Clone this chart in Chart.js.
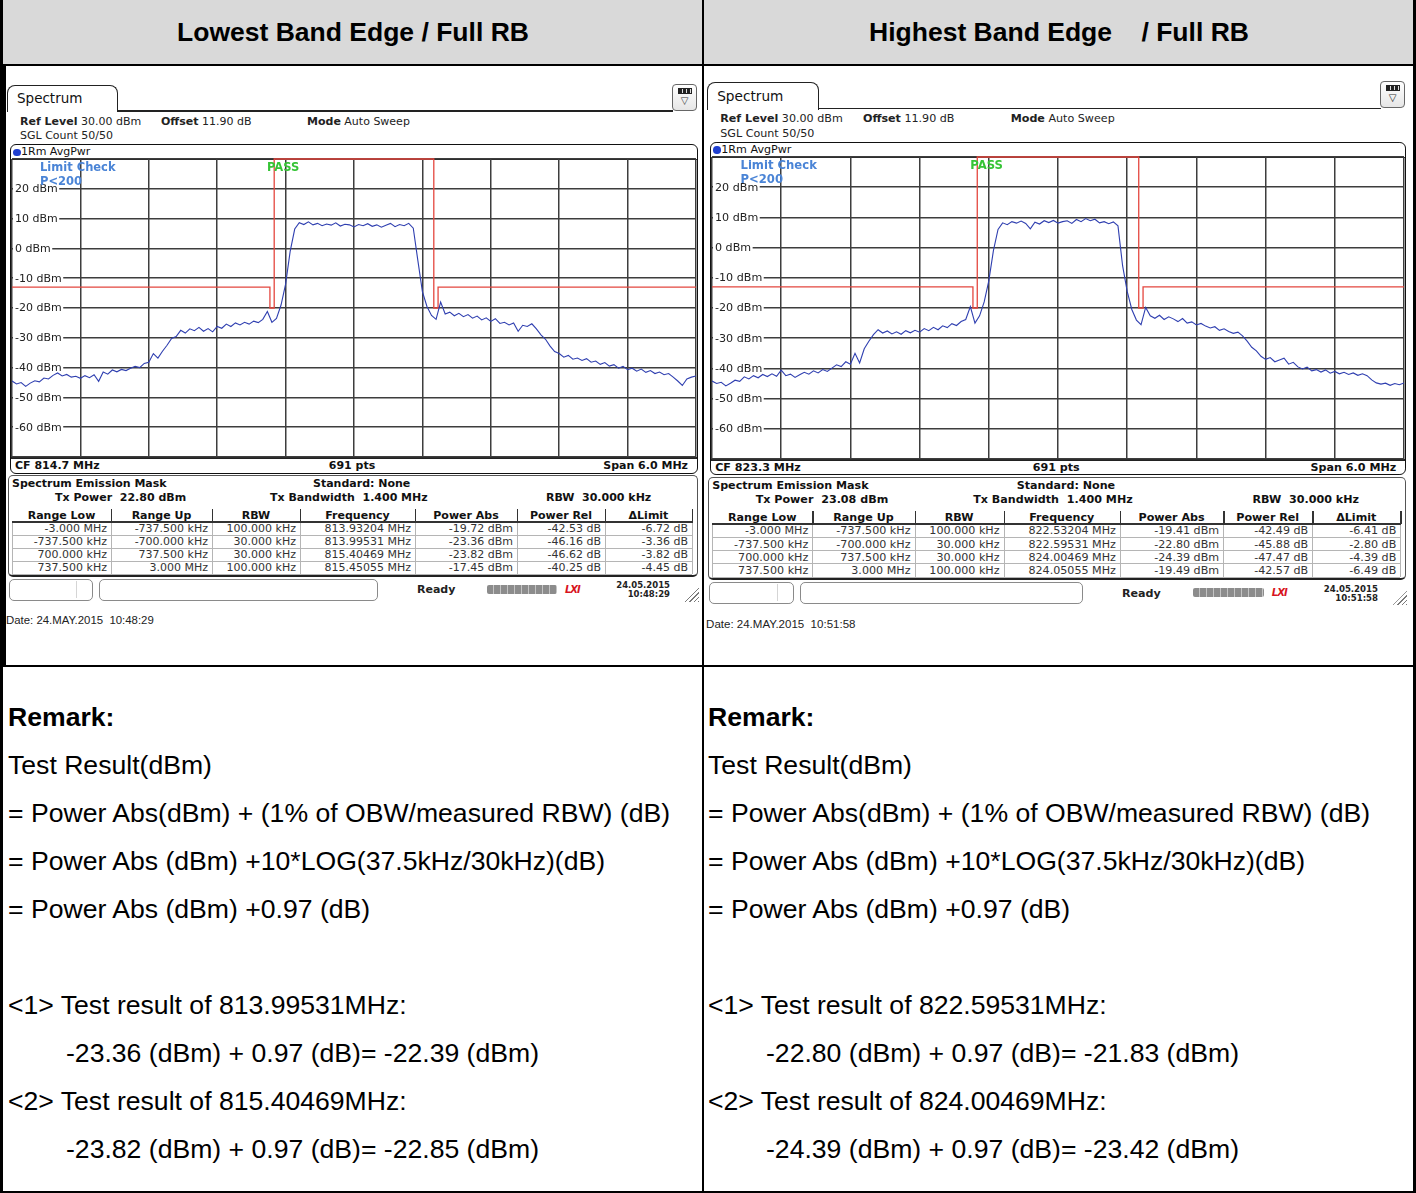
<!DOCTYPE html>
<html>
<head>
<meta charset="utf-8">
<script src="https://cdn.jsdelivr.net/npm/chart.js@4.4.1/dist/chart.umd.min.js"></script>
<style>
  body { margin: 0; background: #fff; }
  #page { position: relative; width: 1416px; height: 1193px; overflow: hidden; font-family: "Liberation Sans", Arial, sans-serif; color: #000; }
</style>
</head>
<body>
<div id="page"></div>

<script>
const spanMHz = 6.0;
const lowCF = 814.7;
const highCF = 823.3;
const levelTicks = [20, 10, 0, -10, -20, -30, -40, -50, -60];

// SEM limit line, offsets from CF (MHz) and levels (dBm)
const limitOffsets = [-3, -0.7375, -0.7375, -0.7, -0.7, 0.7, 0.7, 0.7375, 0.7375, 3];
const limitLevels  = [-13, -13, -20, -20, 30, 30, -20, -20, -13, -13];

// trace levels (dBm), evenly spread over the 6 MHz span
const lowTrace = [
  -44.5,-45.5,-45.0,-46.3,-45.2,-44.4,-44.8,-43.5,-43.8,-42.6,
  -41.8,-42.8,-42.3,-43.2,-42.9,-43.6,-42.7,-43.4,-42.4,-44.6,
  -41.5,-42.2,-40.8,-41.4,-40.6,-41.0,-40.2,-39.6,-40.0,-38.6,
  -38.2,-35.3,-36.8,-34.5,-32.5,-30.2,-29.6,-27.5,-28.4,-27.0,
  -27.6,-26.5,-27.8,-26.9,-28.0,-26.2,-26.8,-25.4,-26.2,-25.0,
  -25.7,-24.8,-25.4,-24.4,-24.9,-23.8,-21.2,-24.8,-23.5,-19.0,
  -12.0,-1.0,6.5,8.6,8.0,8.9,7.9,8.4,7.6,8.2,
  7.8,8.6,7.5,8.1,7.9,7.2,8.0,7.6,8.3,7.4,
  7.9,7.1,7.8,8.4,7.3,8.0,7.6,8.4,6.8,-4.0,
  -14.5,-19.5,-22.5,-23.8,-18.0,-22.0,-21.4,-22.6,-21.8,-22.9,
  -22.2,-23.4,-22.7,-24.0,-23.3,-24.5,-23.6,-25.2,-24.8,-25.7,
  -25.0,-27.8,-25.8,-26.2,-25.3,-27.0,-29.0,-30.5,-32.8,-34.6,
  -35.3,-36.5,-35.9,-37.2,-36.8,-37.6,-37.0,-38.2,-37.8,-38.9,
  -38.3,-39.5,-39.0,-40.2,-39.6,-40.7,-40.2,-41.2,-40.5,-41.6,
  -41.0,-42.0,-41.5,-42.4,-42.0,-43.2,-44.5,-46.0,-43.8,-43.2,-42.8
];
const highTrace = [
  -44.2,-45.0,-44.6,-45.8,-44.9,-43.9,-44.3,-42.8,-43.5,-42.4,
  -43.1,-42.0,-42.7,-41.8,-42.6,-40.6,-42.4,-41.9,-43.0,-42.1,
  -41.3,-41.9,-40.8,-41.5,-40.4,-41.0,-39.9,-38.8,-39.4,-37.8,
  -38.6,-35.0,-38.2,-33.5,-31.0,-28.8,-27.2,-28.3,-27.6,-28.6,
  -27.9,-28.7,-27.5,-28.2,-27.4,-28.0,-26.8,-27.5,-26.4,-27.2,
  -25.9,-26.5,-25.2,-25.8,-24.5,-23.8,-19.5,-25.0,-22.6,-18.0,
  -11.0,-1.0,6.0,8.2,7.6,8.6,8.1,8.8,8.0,6.2,
  8.4,7.8,8.9,8.3,9.0,8.1,8.6,8.9,8.0,9.3,
  8.6,9.6,8.9,9.4,8.2,8.6,7.9,8.5,7.2,-6.0,
  -14.5,-20.5,-24.0,-25.5,-19.8,-22.6,-23.4,-22.4,-23.8,-22.9,
  -23.6,-24.5,-23.5,-25.0,-24.6,-25.6,-25.1,-26.0,-26.6,-26.2,
  -27.4,-26.9,-27.8,-28.4,-28.0,-29.2,-31.0,-33.0,-34.2,-36.0,
  -37.0,-36.4,-37.8,-37.2,-36.6,-38.6,-38.0,-39.5,-40.2,-39.6,
  -40.8,-40.4,-41.2,-40.5,-41.6,-41.0,-41.8,-41.3,-42.0,-41.5,
  -42.3,-41.8,-42.4,-43.8,-44.8,-45.2,-44.9,-45.6,-45.0,-45.4,-44.8
];

const semHeaders = ['Range Low', 'Range Up', 'RBW', 'Frequency', 'Power Abs', 'Power Rel', '\u0394Limit'];
const lowRows = [
  ['-3.000 MHz', '-737.500 kHz', '100.000 kHz', '813.93204 MHz', '-19.72 dBm', '-42.53 dB', '-6.72 dB'],
  ['-737.500 kHz', '-700.000 kHz', '30.000 kHz', '813.99531 MHz', '-23.36 dBm', '-46.16 dB', '-3.36 dB'],
  ['700.000 kHz', '737.500 kHz', '30.000 kHz', '815.40469 MHz', '-23.82 dBm', '-46.62 dB', '-3.82 dB'],
  ['737.500 kHz', '3.000 MHz', '100.000 kHz', '815.45055 MHz', '-17.45 dBm', '-40.25 dB', '-4.45 dB']
];
const highRows = [
  ['-3.000 MHz', '-737.500 kHz', '100.000 kHz', '822.53204 MHz', '-19.41 dBm', '-42.49 dB', '-6.41 dB'],
  ['-737.500 kHz', '-700.000 kHz', '30.000 kHz', '822.59531 MHz', '-22.80 dBm', '-45.88 dB', '-2.80 dB'],
  ['700.000 kHz', '737.500 kHz', '30.000 kHz', '824.00469 MHz', '-24.39 dBm', '-47.47 dB', '-4.39 dB'],
  ['737.500 kHz', '3.000 MHz', '100.000 kHz', '824.05055 MHz', '-19.49 dBm', '-42.57 dB', '-6.49 dB']
];

const lowRemark = [
  ['Remark:', 0, true], ['Test Result(dBm)', 0], ['= Power Abs(dBm) + (1% of OBW/measured RBW) (dB)', 0],
  ['= Power Abs (dBm) +10*LOG(37.5kHz/30kHz)(dB)', 0], ['= Power Abs (dBm) +0.97 (dB)', 0], ['', 0],
  ['<1> Test result of 813.99531MHz:', 0], ['-23.36 (dBm) + 0.97 (dB)= -22.39 (dBm)', 1],
  ['<2> Test result of 815.40469MHz:', 0], ['-23.82 (dBm) + 0.97 (dB)= -22.85 (dBm)', 1]
];
const highRemark = [
  ['Remark:', 0, true], ['Test Result(dBm)', 0], ['= Power Abs(dBm) + (1% of OBW/measured RBW) (dB)', 0],
  ['= Power Abs (dBm) +10*LOG(37.5kHz/30kHz)(dB)', 0], ['= Power Abs (dBm) +0.97 (dB)', 0], ['', 0],
  ['<1> Test result of 822.59531MHz:', 0], ['-22.80 (dBm) + 0.97 (dB)= -21.83 (dBm)', 1],
  ['<2> Test result of 824.00469MHz:', 0], ['-24.39 (dBm) + 0.97 (dB)= -23.42 (dBm)', 1]
];

// ---- helpers ----
const page = document.getElementById('page');
const INSTR = 'font-family:"DejaVu Sans",Verdana,sans-serif;';

function box(x, y, w, h, css) {
  const d = document.createElement('div');
  d.style.cssText = `position:absolute;left:${x}px;top:${y}px;width:${w}px;height:${h}px;box-sizing:border-box;` + (css || '');
  page.appendChild(d);
  return d;
}

function text(x, cy, str, fs, css, align, html) {
  const d = document.createElement('div');
  if (html) d.innerHTML = str; else d.textContent = str;
  let st = `position:absolute;top:${cy - fs * 0.6}px;font-size:${fs}px;line-height:${fs * 1.2}px;white-space:pre;` + (css || '');
  if (align === 'right') st += `right:${1416 - x}px;text-align:right;`;
  else if (align === 'center') st += `left:${x - 300}px;width:600px;text-align:center;`;
  else st += `left:${x}px;`;
  d.style.cssText = st;
  page.appendChild(d);
  return d;
}

// level labels sit inside the plot, on a white patch, under the trace
const levelLabels = {
  id: 'levelLabels',
  beforeDatasetsDraw(chart, args, opts) {
    const { ctx, chartArea } = chart;
    const ys = chart.scales.y;
    ctx.save();
    ctx.font = opts.size + 'px "DejaVu Sans"';
    ctx.textBaseline = 'middle';
    levelTicks.forEach(v => {
      const py = ys.getPixelForValue(v);
      const s = v + ' dBm';
      const w = ctx.measureText(s).width;
      ctx.fillStyle = '#fff';
      ctx.fillRect(chartArea.left + 1, py - opts.size * 0.55, w + 3.5, opts.size * 1.1);
      ctx.fillStyle = '#222';
      ctx.fillText(s, chartArea.left + 3, py + 0.5);
    });
    ctx.restore();
  }
};

// ---- document table ----
box(0, 0, 1416, 64, 'background:#d9d9d9;');
box(0, 0, 3, 1193, 'background:#000;');
box(1413, 0, 3, 1193, 'background:#000;');
box(0, 64, 1416, 2, 'background:#000;');
box(702, 0, 2, 1193, 'background:#000;');
box(0, 665, 1416, 2, 'background:#000;');
box(0, 1191, 1416, 2, 'background:#000;');
box(0, 66, 6, 599, 'background:#000;');

text(353, 33, 'Lowest Band Edge / Full RB', 26.5, 'font-weight:bold;', 'center');
text(1059, 33, 'Highest Band Edge    / Full RB', 26.5, 'font-weight:bold;', 'center');

function remarks(lines, x0) {
  lines.forEach((ln, i) => {
    const x = x0 + (ln[1] ? 58 : 0);
    text(x, 718 + i * 48, ln[0], 26.6, ln[2] ? 'font-weight:bold;' : '');
  });
}
remarks(lowRemark, 8);
remarks(highRemark, 708);

// ---- one analyser screen ----
function buildPanel(p) {
  const X = v => p.ox + v * p.s, Y = v => p.oy + v * p.s, S = v => v * p.s;
  const t = (x, cy, str, fs, css, align) => text(X(x), Y(cy), str, S(fs), INSTR + (css || ''), align, true);

  // tab + header
  box(X(7), Y(85), S(111), S(27), `border:${S(1.5)}px solid #222;border-bottom:none;border-radius:${S(8)}px ${S(8)}px 0 0;background:#fff;`);
  t(17, 98.5, 'Spectrum', 13.5, 'color:#111;');
  box(X(118), Y(110), S(555), S(1.5), 'background:#222;');
  box(X(672), Y(83.5), S(25), S(27), `border:${S(1.2)}px solid #666;border-radius:${S(4)}px;background:linear-gradient(#fff,#e6e6e6);`);
  box(X(677.5), Y(88), S(14), S(5.5), 'background:repeating-linear-gradient(90deg,#222 0 3px,#ddd 3px 4px);border:1px solid #222;');
  t(684.5, 101, '\u25BD', 10, 'color:#333;', 'center');

  t(20, 121.5, '<b>Ref Level</b> 30.00 dBm', 11, 'color:#222;');
  t(161, 121.5, '<b>Offset</b> 11.90 dB', 11, 'color:#222;');
  t(307, 121.5, '<b>Mode</b> Auto Sweep', 11, 'color:#222;');
  t(20, 135.5, 'SGL Count 50/50', 11, 'color:#222;');

  // diagram frame
  box(X(10), Y(144), S(688), S(329.5), `border:${S(1.8)}px solid #111;border-radius:${S(6)}px;`);
  box(X(11), Y(158.6), S(686), S(1.5), 'background:#222;');
  box(X(11), Y(457.3), S(686), S(1.5), 'background:#222;');
  box(X(13), Y(148.5), S(7.5), S(7.5), 'border-radius:50%;background:#1f3fd0;');
  t(21, 152, '1Rm AvgPwr', 11, 'color:#111;');
  t(15, 465.5, '<b>CF ' + p.cf.toFixed(1) + ' MHz</b>', 11, 'color:#111;');
  t(352, 465.5, '<b>691 pts</b>', 11, 'color:#111;', 'center');
  t(688, 465.5, '<b>Span ' + spanMHz.toFixed(1) + ' MHz</b>', 11, 'color:#111;', 'right');

  // chart
  const cv = document.createElement('canvas');
  const cw = Math.round(S(688)), ch = Math.round(S(302));
  cv.width = cw; cv.height = ch;
  cv.style.cssText = `position:absolute;left:${Math.round(X(10))}px;top:${Math.round(Y(157.4))}px;width:${cw}px;height:${ch}px;`;
  page.appendChild(cv);

  const f0 = p.cf - spanMHz / 2;
  const step = spanMHz / (p.trace.length - 1);
  const tracePts = p.trace.map((v, i) => ({ x: f0 + i * step, y: v }));
  const limitPts = limitOffsets.map((o, i) => ({ x: p.cf + o, y: limitLevels[i] }));

  new Chart(cv, {
    type: 'line',
    data: {
      datasets: [
        { data: tracePts, borderColor: '#2f3fb0', borderWidth: 1.1, pointRadius: 0, tension: 0 },
        { data: limitPts, borderColor: '#e4473f', borderWidth: 1.3, pointRadius: 0, tension: 0, clip: false }
      ]
    },
    plugins: [levelLabels],
    options: {
      responsive: false,
      animation: false,
      layout: { padding: 2 },
      plugins: { legend: { display: false }, tooltip: { enabled: false }, levelLabels: { size: S(11) } },
      scales: {
        x: {
          type: 'linear', min: f0, max: p.cf + spanMHz / 2,
          ticks: { display: false, stepSize: spanMHz / 10 },
          grid: { color: '#3d3d3d', lineWidth: 1.5, drawTicks: false },
          border: { display: false }
        },
        y: {
          min: -70, max: 30,
          ticks: { display: false, stepSize: 10 },
          grid: { color: '#3d3d3d', lineWidth: 1.5, drawTicks: false },
          border: { display: false }
        }
      }
    }
  });

  t(40, 168, '<b>Limit Check</b>', 11.5, 'color:#4a84d6;');
  t(267, 168, '<b>PASS</b>', 11.5, 'color:#36c436;');
  t(40, 182, '<b>P&lt;200</b>', 11.5, 'color:#4a84d6;');

  // spectrum emission mask result table
  box(X(8), Y(475), S(690), S(102), `border:${S(1.4)}px solid #555;border-bottom:${S(2.5)}px solid #222;border-radius:${S(5)}px;`);
  t(12, 483.5, '<b>Spectrum Emission Mask</b>', 11, 'color:#111;');
  t(313, 483.5, '<b>Standard: None</b>', 11, 'color:#111;');
  t(55, 497.5, '<b>Tx Power  ' + p.txPower + '</b>', 11, 'color:#111;');
  t(270, 497.5, '<b>Tx Bandwidth  1.400 MHz</b>', 11, 'color:#111;');
  t(546, 497.5, '<b>RBW  30.000 kHz</b>', 11, 'color:#111;');

  const cols = [12, 111, 212, 300, 415, 517, 605, 692];
  semHeaders.forEach((h, c) => {
    t((cols[c] + cols[c + 1]) / 2, 515.5, '<b>' + h + '</b>', 11, 'color:#111;', 'center');
    if (c > 0) box(X(cols[c]), Y(509), S(1.3), S(13), 'background:#333;');
  });
  box(X(cols[7]), Y(509), S(1.3), S(13), 'background:#333;');
  box(X(cols[0]), Y(521), S(cols[7] - cols[0] + 1), S(1.8), 'background:#333;');
  for (let r = 0; r < 4; r++) {
    box(X(cols[0]), Y(534.5 + r * 13), S(cols[7] - cols[0]), S(1), 'background:#b5b5b5;');
    p.rows[r].forEach((v, c) => t(cols[c + 1] - 4, 528.5 + r * 13, v, 11, 'color:#333;', 'right'));
  }
  cols.forEach(cx => box(X(cx), Y(522.5), S(1), S(51), 'background:#b5b5b5;'));

  // status bar
  box(X(9), Y(579), S(84), S(21.5), `border:1px solid #8a8a8a;border-radius:${S(5)}px;`);
  box(X(76), Y(581), S(1), S(17), 'background:#d5d5d5;');
  box(X(99), Y(579), S(279), S(21.5), `border:1px solid #8a8a8a;border-radius:${S(5)}px;`);
  t(417, 590, '<b>Ready</b>', 11, 'color:#222;');
  box(X(487), Y(585), S(70), S(9), 'background:repeating-linear-gradient(90deg,#8c8c8c 0 6px,#c4c4c4 6px 7px);border-radius:2px;');
  t(565, 589.5, '<b><i>LXI</i></b>', 10, 'color:#d8141e;letter-spacing:-1px;');
  t(670, 585.5, '<b>24.05.2015</b>', 8.5, 'color:#222;', 'right');
  t(670, 594.5, '<b>' + p.time + '</b>', 8.5, 'color:#222;', 'right');
  box(X(684), Y(587), S(15), S(15), 'background:repeating-linear-gradient(135deg,#fff 0 2px,#7a7a7a 2px 3px);clip-path:polygon(100% 0,100% 100%,0 100%);');

  text(X(6), Y(621), 'Date: 24.MAY.2015  ' + p.time, S(11.4), 'color:#222;');
}

buildPanel({ ox: 0, oy: 0, s: 1, cf: lowCF, trace: lowTrace, rows: lowRows, txPower: '22.80 dBm', time: '10:48:29' });
buildPanel({ ox: 700, oy: -3.8, s: 1.012, cf: highCF, trace: highTrace, rows: highRows, txPower: '23.08 dBm', time: '10:51:58' });
</script>
</body>
</html>
